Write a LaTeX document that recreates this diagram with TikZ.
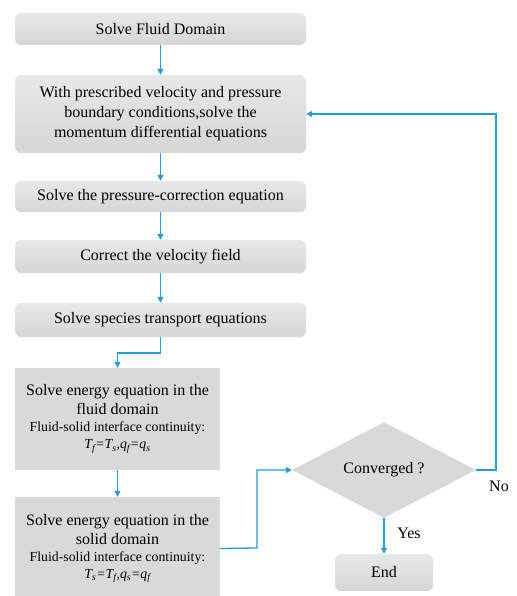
\documentclass[tikz,border=0pt]{standalone}
\usepackage{fontspec}
\setmainfont{Liberation Serif}
\usetikzlibrary{shapes.geometric,arrows.meta}
\definecolor{flowblue}{RGB}{30,157,224}
\tikzset{
  rbox/.style={rectangle, rounded corners=6pt, top color=gray!18, bottom color=gray!32, draw=none,
    align=center, font=\fontsize{16}{20}\selectfont, inner sep=0pt},
  sbox/.style={rectangle, fill=gray!30, draw=none, align=center,
    font=\fontsize{16}{19}\selectfont, inner sep=0pt, minimum width=205pt},
  dec/.style={diamond, fill=gray!30, draw=none, inner sep=0pt, font=\fontsize{16}{19}\selectfont,
    minimum width=184pt, minimum height=85pt},
  flow/.style={draw=flowblue, line width=1.3pt, -{Triangle[length=6pt,width=6pt]}},
  lbl/.style={font=\fontsize{16}{19}\selectfont, inner sep=0pt}
}
\newcommand{\smtxt}{\fontsize{13.8}{18}\selectfont}
\begin{document}
\begin{tikzpicture}[x=1pt,y=-1pt]
\useasboundingbox (0,0) rectangle (516,596);
\node[rbox, minimum width=291pt, minimum height=32pt] (b1) at (160.5,29) {Solve Fluid Domain};
\node[rbox, minimum width=291pt, minimum height=78pt] (b2) at (160.5,114)
  {With prescribed velocity and pressure\\boundary conditions,solve the\\momentum differential equations};
\node[rbox, minimum width=291pt, minimum height=31pt] (b3) at (160.5,196.5) {Solve the pressure-correction equation};
\node[rbox, minimum width=291pt, minimum height=33pt] (b4) at (160.5,256.5) {Correct the velocity field};
\node[rbox, minimum width=291pt, minimum height=34pt] (b5) at (160.5,320) {Solve species transport equations};
\node[sbox, minimum height=102pt] (b6) at (117.5,419)
  {Solve energy equation in the\\fluid domain\\[-2pt]{\smtxt Fluid-solid interface continuity:}\\[-2pt]
   {\smtxt\textit{T\textsubscript{f}=T\textsubscript{s},q\textsubscript{f}=q\textsubscript{s}}}};
\node[sbox, minimum height=103pt] (b7) at (117.5,548.5)
  {Solve energy equation in the\\solid domain\\[-2pt]{\smtxt Fluid-solid interface continuity:}\\[-2pt]
   {\smtxt\textit{T\textsubscript{s}=T\textsubscript{f},q\textsubscript{s}=q\textsubscript{f}}}};
\node[dec] (d) at (384,470) {Converged ?};
\node[rbox, minimum width=98pt, minimum height=37pt] (e) at (384,572.5) {End};
\node[lbl] (yes) at (409,533) {Yes};
\node[lbl, anchor=west] (no) at (489,486) {No};
\coordinate (c1) at (160.5,353);
\coordinate (c2) at (257,548);
\coordinate (c3) at (496,470);

\draw[flow] (b1) -- (b2);
\draw[flow] (b2) -- (b3);
\draw[flow] (b3) -- (b4);
\draw[flow] (b4) -- (b5);
\draw[flow] (b5.south) -- (c1) -| (b6.north);
\draw[flow] (b6) -- (b7);
\draw[flow] (b7.east) -- (c2) |- (d.west);
\draw[flow] (d.east) -- (c3) |- (b2.east);
\draw[flow] (d.south) -- (e.north);
\end{tikzpicture}
\end{document}
